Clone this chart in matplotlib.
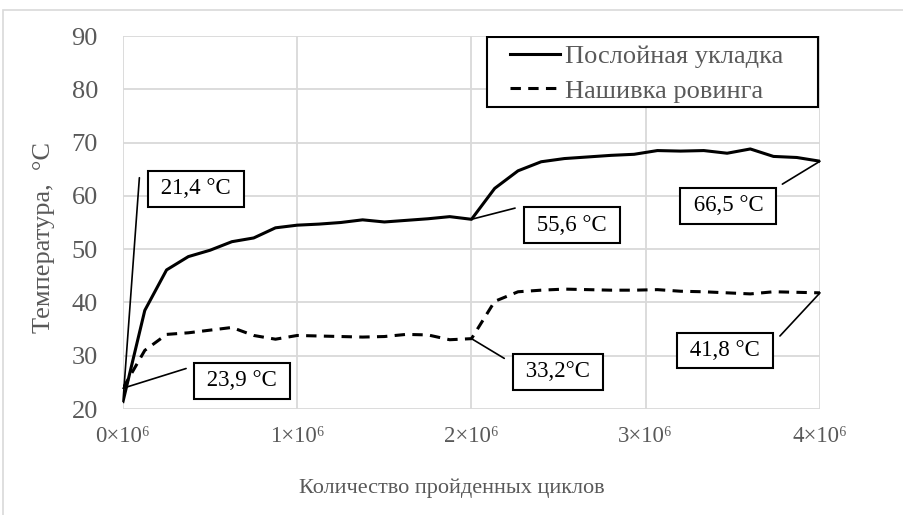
import matplotlib.pyplot as plt
from matplotlib.patches import Rectangle

# cycles (millions) and temperatures, first half measured every 0.125e6,
# second half every ~0.133e6
cycles_a = [0.0, 0.125, 0.25, 0.375, 0.5, 0.625, 0.75, 0.875, 1.0, 1.125,
            1.25, 1.375, 1.5, 1.625, 1.75, 1.875, 2.0]
cycles_b = [2.133, 2.267, 2.4, 2.533, 2.667, 2.8, 2.933, 3.067, 3.2,
            3.333, 3.467, 3.6, 3.733, 3.867, 4.0]
cycles = [c * 1e6 for c in cycles_a + cycles_b]

layered = [21.4, 38.5, 46.1, 48.6, 49.8, 51.4, 52.1, 54.0, 54.5, 54.7,
           55.0, 55.5, 55.1, 55.4, 55.7, 56.1, 55.6,
           61.4, 64.7, 66.4, 67.0, 67.3, 67.6, 67.8, 68.5, 68.4, 68.5,
           68.0, 68.8, 67.4, 67.2, 66.5]
stitched = [23.9, 31.0, 34.0, 34.3, 34.8, 35.3, 33.8, 33.1, 33.8, 33.7,
            33.6, 33.5, 33.6, 34.0, 33.9, 33.0, 33.2,
            40.2, 42.0, 42.3, 42.5, 42.4, 42.3, 42.3, 42.4, 42.1, 42.0,
            41.8, 41.6, 42.0, 41.9, 41.8]

series_names = ["Послойная укладка", "Нашивка ровинга"]
xtick_vals = [0, 1e6, 2e6, 3e6, 4e6]
xtick_labels = ["0×10⁶", "1×10⁶", "2×10⁶", "3×10⁶", "4×10⁶"]
yticks = [20, 30, 40, 50, 60, 70, 80, 90]

# callouts: (series, point index, label, box centre, leader end)
callouts = [
    (layered, 0, "21,4 °C", (0.419e6, 61.3), (0.094e6, 63.4)),
    (stitched, 0, "23,9 °C", (0.681e6, 25.3), (0.362e6, 27.6)),
    (layered, 16, "55,6 °C", (2.577e6, 54.5), (2.25e6, 57.7)),
    (stitched, 16, "33,2°C", (2.496e6, 27.0), (2.188e6, 29.5)),
    (layered, 31, "66,5 °C", (3.474e6, 58.1), (3.784e6, 62.2)),
    (stitched, 31, "41,8 °C", (3.454e6, 31.0), (3.770e6, 33.7)),
]

serif = ["Liberation Serif", "DejaVu Serif"]
plt.rcParams["font.family"] = serif
gray = "#595959"

fig = plt.figure(figsize=(9.04, 5.15), dpi=100)
fig.patches.append(Rectangle((3 / 904, -0.1), 1.2, 0.1 + 505 / 515,
                             transform=fig.transFigure, fill=False,
                             edgecolor="#d9d9d9", lw=1.2))
ax = fig.add_axes([123 / 904, 1 - 409 / 515, 697 / 904, 373 / 515])

ax.plot(cycles, layered, color="black", lw=2.2, label=series_names[0])
ax.plot(cycles, stitched, color="black", lw=2.2, dashes=(3.4, 2.4),
        label=series_names[1])

for series, idx, text, box_xy, end_xy in callouts:
    ax.annotate("", xy=(cycles[idx], series[idx]), xytext=end_xy,
                arrowprops=dict(arrowstyle="-", color="black", lw=1.2,
                                shrinkA=0, shrinkB=0))
    ax.text(box_xy[0], box_xy[1], " " + text + " ", ha="center", va="center",
            fontsize=16.5, color="black",
            bbox=dict(boxstyle="square,pad=0.32", fc="white", ec="black",
                      lw=1.5))

ax.set_xlim(0, 4e6)
ax.set_ylim(20, 90)
ax.set_xticks(xtick_vals)
ax.set_xticklabels(xtick_labels)
ax.set_yticks(yticks)
ax.tick_params(axis="both", length=0, labelcolor=gray)
ax.tick_params(axis="x", pad=12, labelsize=16.5)
ax.tick_params(axis="y", pad=18, labelsize=19)
ax.grid(True, color="#d9d9d9", lw=1.3)
ax.set_axisbelow(True)
for s in ax.spines.values():
    s.set_visible(False)

ax.set_xlabel("Количество пройденных циклов", fontsize=16, color=gray)
ax.xaxis.set_label_coords(0.472, -0.185)
ax.set_ylabel("Температура,  °C", fontsize=19, color=gray)
ax.yaxis.set_label_coords(-0.097, 0.46)

# legend text without its own frame, boxed by a wider rectangle
leg = ax.legend(loc="upper left", bbox_to_anchor=(0.555, 0.977), fontsize=19,
                frameon=False, handlelength=1.9, handletextpad=0.2,
                borderpad=0.0, labelspacing=0.42, borderaxespad=0.0)
for t in leg.get_texts():
    t.set_color(gray)
ax.add_patch(Rectangle((0.522, 0.810), 0.475, 0.187, transform=ax.transAxes,
                       fill=True, fc="white", ec="black", lw=1.5, zorder=4))
leg.set_zorder(5)

fig.savefig("out.png", dpi=100)
